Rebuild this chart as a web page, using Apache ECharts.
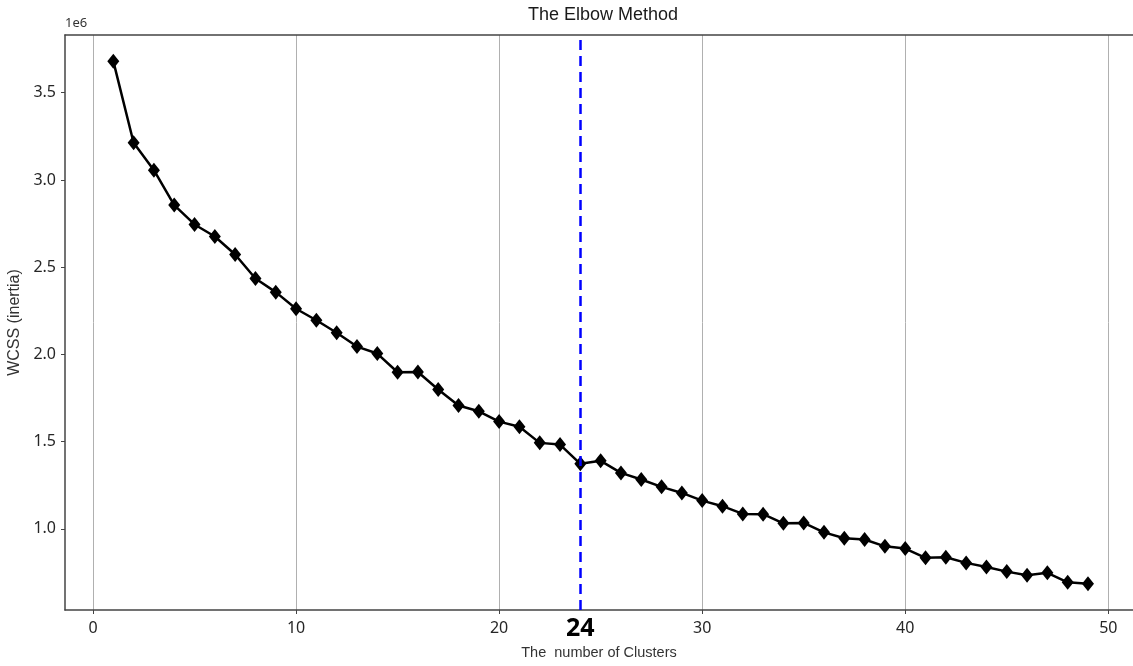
<!DOCTYPE html>
<html>
<head>
<meta charset="utf-8">
<title>The Elbow Method</title>
<script src="https://cdn.jsdelivr.net/npm/echarts@6/dist/echarts.min.js"></script>
<style>
  html, body { margin: 0; padding: 0; background: #fff; }
  #chart { width: 1133px; height: 666px; }
</style>
</head>
<body>
<div id="chart"></div>
<script>
// number of clusters tried
const clusters = [1, 2, 3, 4, 5, 6, 7, 8, 9, 10, 11, 12, 13, 14, 15, 16, 17, 18, 19, 20,
  21, 22, 23, 24, 25, 26, 27, 28, 29, 30, 31, 32, 33, 34, 35, 36, 37, 38, 39, 40,
  41, 42, 43, 44, 45, 46, 47, 48, 49]
// WCSS (inertia)
const wcss = [3681000, 3213000, 3056000, 2856000, 2745000, 2676000, 2573000, 2435000, 2357000, 2262000,
  2196000, 2124000, 2045000, 2005000, 1898000, 1899000, 1799000, 1707000, 1674000, 1615000,
  1585000, 1493000, 1483000, 1373000, 1390000, 1321000, 1283000, 1241000, 1206000, 1162000,
  1130000, 1086000, 1084000, 1032000, 1034000, 980000, 946000, 939000, 900000, 887000,
  834000, 837000, 805000, 782000, 755000, 734000, 748000, 694000, 685000]
const xTicks = [0, 10, 20, 30, 40, 50]
const yTicks = [1000000, 1500000, 2000000, 2500000, 3000000, 3500000]
const elbowK = 24

const chart = echarts.init(document.getElementById('chart'))

const labelFont = { fontFamily: 'Noto Sans', fontSize: 16, color: '#262626' }

const option = {
  animation: false,
  backgroundColor: '#fff',
  title: {
    text: 'The Elbow Method',
    left: 528,
    top: 6,
    padding: 0,
    textStyle: { fontFamily: 'Liberation Sans', fontSize: 18, fontWeight: 'normal', color: '#1a1a1a' }
  },
  grid: { left: 65, right: 0, top: 35, bottom: 56, outerBoundsMode: 'none' },
  xAxis: [
    {
      type: 'value',
      min: -1.379,
      max: 51.217,
      name: 'The  number of Clusters',
      nameLocation: 'middle',
      nameGap: 35,
      nameTextStyle: { fontFamily: 'Liberation Sans', fontSize: 14.5, color: '#333' },
      axisLine: { onZero: false, lineStyle: { color: '#444', width: 1.5 } },
      axisTick: { show: true, length: 4, customValues: xTicks, lineStyle: { color: '#444' } },
      axisLabel: Object.assign({ customValues: xTicks, margin: 10 }, labelFont),
      splitLine: { show: true, lineStyle: { color: '#b0b0b0', width: 1 } }
    },
    {
      // top spine only
      type: 'value',
      position: 'top',
      min: -1.379,
      max: 51.217,
      axisLine: { show: true, onZero: false, lineStyle: { color: '#444', width: 1.5 } },
      axisTick: { show: false },
      axisLabel: { show: false },
      splitLine: { show: false }
    }
  ],
  yAxis: {
    type: 'value',
    min: 535000,
    max: 3831000,
    name: 'WCSS (inertia)',
    nameLocation: 'middle',
    nameGap: 39,
    nameTextStyle: { fontFamily: 'Liberation Sans', fontSize: 16, color: '#333' },
    axisLine: { show: true, onZero: false, lineStyle: { color: '#444', width: 1.5 } },
    axisTick: { show: true, length: 4, customValues: yTicks, lineStyle: { color: '#444' } },
    axisLabel: Object.assign({
      customValues: yTicks,
      margin: 9,
      formatter: (v) => (v / 1e6).toFixed(1)
    }, labelFont),
    splitLine: { show: false }
  },
  graphic: [
    {
      type: 'text',
      left: 65,
      top: 17,
      style: { text: '1e6', fontFamily: 'Noto Sans', fontSize: 13, fill: '#333' }
    }
  ],
  series: [
    {
      type: 'line',
      data: clusters.map((k, i) => [k, wcss[i]]),
      symbol: 'diamond',
      symbolSize: [12, 15],
      lineStyle: { color: '#000', width: 2.5 },
      itemStyle: { color: '#000' },
      z: 3,
      markLine: {
        silent: true,
        symbol: 'none',
        data: [{ xAxis: elbowK }],
        lineStyle: { color: '#0000ff', type: [10, 6], width: 2.5 },
        label: {
          show: true,
          position: 'start',
          distance: 6,
          formatter: String(elbowK),
          fontFamily: 'Noto Sans',
          fontSize: 25,
          fontWeight: 'bold',
          color: '#000'
        }
      }
    }
  ]
}

chart.setOption(option)
</script>
</body>
</html>
